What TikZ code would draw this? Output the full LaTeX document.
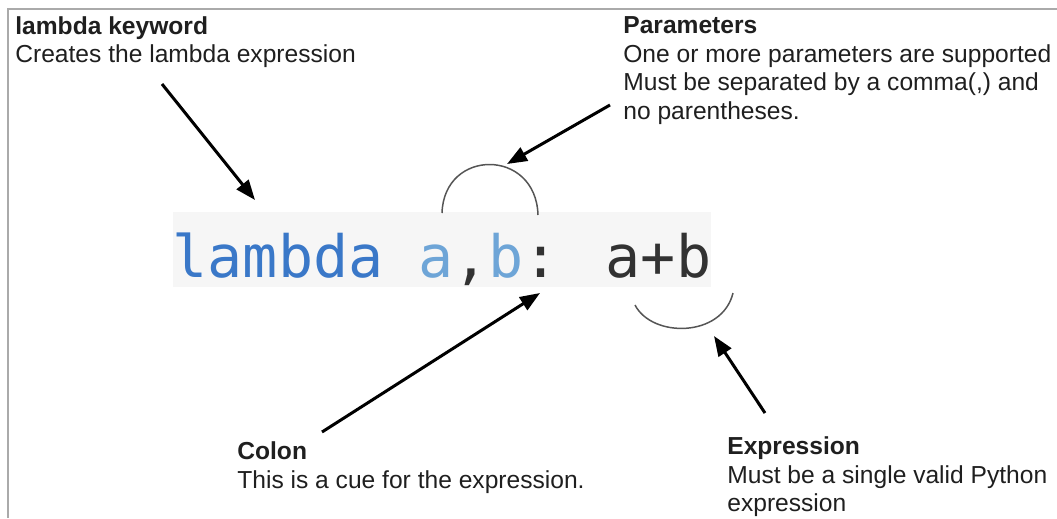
\documentclass[tikz,border=0pt]{standalone}
\usepackage{fontspec}
\setmainfont{Liberation Sans}
\newfontfamily\codefont{DejaVu Sans Mono}
\usetikzlibrary{arrows.meta,positioning}
\definecolor{kwcol}{RGB}{58,120,200}
\definecolor{parcol}{RGB}{110,165,215}
\definecolor{codecol}{RGB}{50,50,50}
\definecolor{codebg}{RGB}{246,246,246}
\definecolor{framecol}{RGB}{170,170,170}
\definecolor{arccol}{RGB}{85,85,85}
\tikzset{
  % annotation text block
  notetext/.style={anchor=north west, align=left, inner sep=0pt, text=black!88,
                   font=\fontsize{14}{16.4}\selectfont},
  % code line on light background
  codebox/.style={fill=codebg, inner xsep=0pt, inner ysep=0pt, text height=1.3cm, text depth=0.2cm,
                  font=\codefont\fontsize{33.2}{40}\selectfont},
  % thick pointer arrow
  pointer/.style={-{Triangle[length=0.4cm,width=0.3cm]}, line width=0.06cm, black},
  % thin curved marker
  bow/.style={arccol, line width=0.03cm},
}

\begin{document}
\begin{tikzpicture}[x=0.02cm, y=-0.02cm]
  \useasboundingbox (0,0) rectangle (1057,518);
  % frame edges
  \draw[framecol, line width=0.03cm] (8,518) -- (8,9) -- (1057,9);
  % code line
  \node[codebox] (code) at (442,249.5) {\textcolor{kwcol}{lambda} \textcolor{parcol}{a}\textcolor{codecol}{,}\textcolor{parcol}{b}\textcolor{codecol}{: a+b}};
  % notes
  \node[notetext] (kwnote) at (15,16) {\textbf{lambda keyword}\\Creates the lambda expression};
  \node[notetext] (parnote) at (623,16) {\textbf{Parameters}\\One or more parameters are supported\\Must be separated by a comma(,) and\\no parentheses.};
  \node[notetext] (colnote) at (237,441) {\textbf{Colon}\\This is a cue for the expression.};
  \node[notetext] (exprnote) at (727,436) {\textbf{Expression}\\Must be a single valid Python\\expression};
  % marker arcs
  \coordinate (argL) at (442,213);
  \coordinate (argR) at (538,215);
  \coordinate (resL) at (635,305);
  \coordinate (resR) at (733,293);
  \draw[bow] (argL) .. controls (444,148) and (536,148) .. (argR);
  \draw[bow] (resL) .. controls (652,338) and (722,338) .. (resR);
  % arrows
  \coordinate (kwtail) at (162,84);    \coordinate (kwtip) at (255,200);
  \coordinate (partail) at (610,105);  \coordinate (partip) at (507,164);
  \coordinate (coltail) at (322,432);  \coordinate (coltip) at (540,293);
  \coordinate (exprtail) at (765,413); \coordinate (exprtip) at (714,336);
  \draw[pointer] (kwtail) -- (kwtip);
  \draw[pointer] (partail) -- (partip);
  \draw[pointer] (coltail) -- (coltip);
  \draw[pointer] (exprtail) -- (exprtip);
\end{tikzpicture}
\end{document}
